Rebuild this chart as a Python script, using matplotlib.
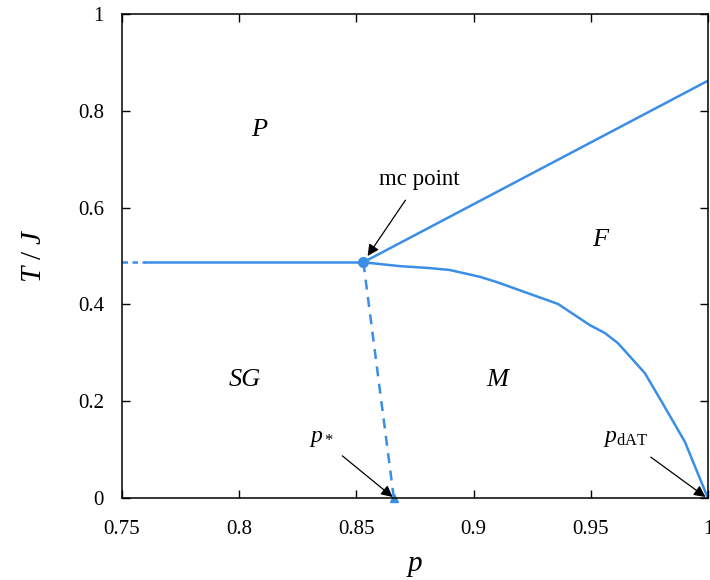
import matplotlib
matplotlib.use("Agg")
import matplotlib.pyplot as plt

plt.rcParams['font.family'] = ['Liberation Serif', 'DejaVu Serif']
plt.rcParams['mathtext.fontset'] = 'custom'
plt.rcParams['mathtext.rm'] = 'Liberation Serif'
plt.rcParams['mathtext.it'] = 'Liberation Serif:italic'

blue = '#3b8ee6'

# data
p_mc, T_mc = 0.853, 0.487
p_star = 0.866
p_dashdot = [0.75, 0.76]
p_flat = [0.76, p_mc]
p_pf = [p_mc, 1.0]
T_pf = [T_mc, 0.862]
p_mf = [p_mc, 0.8686, 0.8814, 0.8899, 0.9027, 0.910, 0.936, 0.9497, 0.956,
        0.9616, 0.9731, 0.9804, 0.9902, 1.0]
T_mf = [T_mc, 0.479, 0.475, 0.471, 0.457, 0.446, 0.401, 0.357, 0.341,
        0.320, 0.258, 0.198, 0.116, 0.0]
xticks = [0.75, 0.8, 0.85, 0.9, 0.95, 1.0]
xticklabels = ['0.75', '0.8', '0.85', '0.9', '0.95', '1']
yticks = [0, 0.2, 0.4, 0.6, 0.8, 1.0]
yticklabels = ['0', '0.2', '0.4', '0.6', '0.8', '1']

fig = plt.figure(figsize=(7.1, 5.8), dpi=100)
ax = fig.add_axes([0.1718, 0.1414, 0.8252, 0.8345])

ax.plot(p_dashdot, [T_mc, T_mc], color=blue, lw=1.8, ls=(0, (2.2, 1.8)))
ax.plot(p_flat, [T_mc, T_mc], color=blue, lw=1.8)
ax.plot(p_pf, T_pf, color=blue, lw=1.8)
ax.plot(p_mf, T_mf, color=blue, lw=1.8)
ax.plot([p_mc, p_star], [T_mc, 0], color=blue, lw=1.8, ls=(0, (4, 3)))
ax.plot([p_mc], [T_mc], 'o', color=blue, ms=7)
ax.plot([p_star], [0], '^', color=blue, ms=6, clip_on=False)

# region labels
ax.text(0.8085, 0.76, 'P', style='italic', fontsize=19, ha='center', va='center')
ax.text(0.8025, 0.244, 'SG', style='italic', fontsize=19, ha='center', va='center')
ax.text(0.910, 0.244, 'M', style='italic', fontsize=19, ha='center', va='center')
ax.text(0.954, 0.533, 'F', style='italic', fontsize=19, ha='center', va='center')

aprops = dict(arrowstyle='-|>', color='black', lw=0.9, mutation_scale=17)
ax.annotate('mc point', xy=(0.8548, 0.50), xytext=(0.8768, 0.657),
            fontsize=16.5, ha='center', va='center',
            arrowprops=dict(aprops, shrinkA=6, shrinkB=0))
ax.annotate(r'$p_*$', xy=(0.8655, 0.002), xytext=(0.8352, 0.122),
            fontsize=17, ha='center', va='center',
            arrowprops=dict(aprops, shrinkA=5, shrinkB=0))
ax.annotate(r'$p_{\mathrm{dAT}}$', xy=(0.999, 0.002), xytext=(0.965, 0.122),
            fontsize=17, ha='center', va='center',
            arrowprops=dict(aprops, shrinkA=6, shrinkB=0))

ax.set_xlim(0.75, 1.0)
ax.set_ylim(0, 1)
ax.set_xticks(xticks)
ax.set_xticklabels(xticklabels)
ax.set_yticks(yticks)
ax.set_yticklabels(yticklabels)
ax.tick_params(direction='in', top=True, right=True, length=6, width=1,
               labelsize=15)
ax.tick_params(axis='x', pad=16)
ax.tick_params(axis='y', pad=13)
for s in ax.spines.values():
    s.set_linewidth(1.1)

ax.set_xlabel(r'$p$', fontsize=21, labelpad=10)
ax.set_ylabel(r'$T\ /\ J$', fontsize=21, labelpad=22)

fig.savefig('out.png', dpi=100)
